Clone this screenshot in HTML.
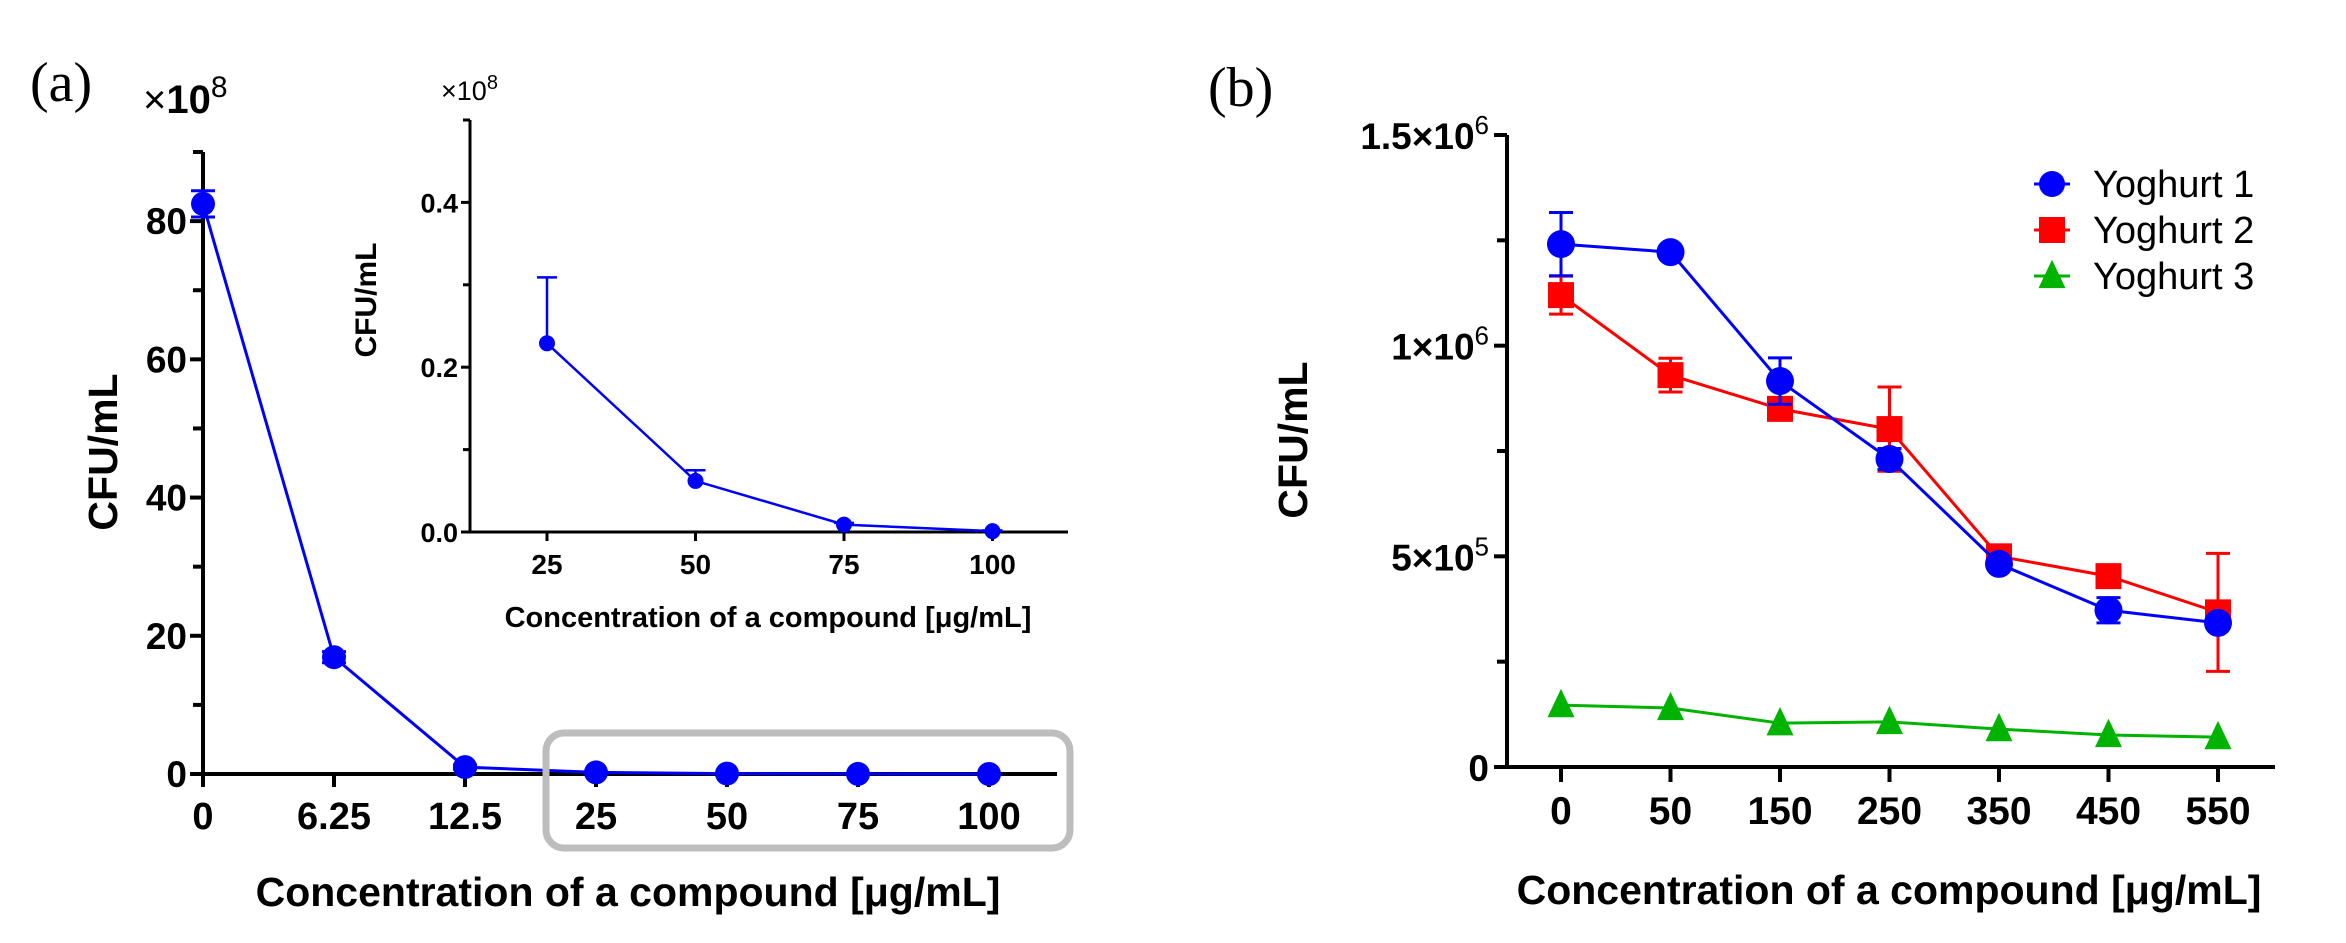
<!DOCTYPE html>
<html><head><meta charset="utf-8">
<style>
html,body{margin:0;padding:0;background:#fff;}
svg{display:block;font-family:"Liberation Sans",Arial,sans-serif;}
.tk{font-weight:bold;}
</style></head>
<body>
<svg id="fig" width="2346" height="943" viewBox="0 0 2346 943" xmlns="http://www.w3.org/2000/svg">
<text x="30" y="101" font-family="Liberation Serif, serif" font-size="56">(a)</text>
<text x="1208" y="106" font-family="Liberation Serif, serif" font-size="56">(b)</text>
<g id="gA"></g>
<g id="gI"></g>
<g id="gB"></g>
</svg>
<script>
// Panel (a) main
const aCats = ["0","6.25","12.5","25","50","75","100"];
const aVals = [82.5, 16.9, 1.0, 0.23, 0.06, 0.01, 0.0];
const aErr  = [1.9, 0.8, 0.3, 0.08, 0.02, 0.005, 0.002];
const aTicks = [0,20,40,60,80];
const aMinor = [10,30,50,70,90];
// Panel (a) inset
const iCats = ["25","50","75","100"];
const iVals = [0.229, 0.062, 0.009, 0.001];
const iErr  = [0.08, 0.013, 0.002, 0.001];
const iTicks = ["0.0","0.2","0.4"];
const iTickVals = [0, 0.2, 0.4];
const iMinor = [0.1, 0.3, 0.5];
// Panel (b)
const bCats = ["0","50","150","250","350","450","550"];
const y1Vals = [1.241e6, 1.222e6, 0.916e6, 0.731e6, 0.482e6, 0.372e6, 0.342e6];
const y1Err  = [0.075e6, 0.01e6, 0.055e6, 0.025e6, 0.01e6, 0.03e6, 0.01e6];
const y2Vals = [1.12e6, 0.93e6, 0.85e6, 0.802e6, 0.5e6, 0.453e6, 0.367e6];
const y2Err  = [0.045e6, 0.04e6, 0.01e6, 0.1e6, 0.01e6, 0.01e6, 0.14e6];
const y3Vals = [0.147e6, 0.14e6, 0.104e6, 0.107e6, 0.09e6, 0.076e6, 0.071e6];
const bTickVals = [0, 5e5, 1e6, 1.5e6];
const bTickBase = ["0","5×10","1×10","1.5×10"];
const bTickExp = ["","5","6","6"];
const bMinor = [2.5e5, 7.5e5, 1.25e6];
const legendNames = ["Yoghurt 1","Yoghurt 2","Yoghurt 3"];

const NS="http://www.w3.org/2000/svg";
function mk(parent, tag, attrs, txt){
  const e=document.createElementNS(NS,tag);
  for(const k in attrs) e.setAttribute(k,attrs[k]);
  if(txt!==undefined) e.textContent=txt;
  parent.appendChild(e); return e;
}

// ---------- Panel A main ----------
(function(){
  const g=document.getElementById('gA');
  const x0=203, yBase=774, yTop=152;
  const X=i=>203+i*131;
  const Y=v=>yBase-(v/90)*(yBase-yTop);
  let e;
  e=mk(g,'line',{x1:x0,y1:yTop,x2:x0,y2:yBase+2,stroke:'#000','stroke-width':4});
   
  e=mk(g,'line',{x1:x0-2,y1:yBase,x2:1057,y2:yBase,stroke:'#000','stroke-width':4});
   
  aTicks.forEach(v=>{
    mk(g,'line',{x1:x0-13,y1:Y(v),x2:x0,y2:Y(v),stroke:'#000','stroke-width':4});
    e=mk(g,'text',{x:x0-16,y:Y(v)+13,'text-anchor':'end','font-size':37,class:'tk'},String(v));
     
  });
  aMinor.forEach(v=>mk(g,'line',{x1:x0-10,y1:Y(v),x2:x0,y2:Y(v),stroke:'#000','stroke-width':4}));
  aCats.forEach((c,i)=>{
    mk(g,'line',{x1:X(i),y1:yBase,x2:X(i),y2:yBase+13,stroke:'#000','stroke-width':4});
    e=mk(g,'text',{x:X(i),y:yBase+55,'text-anchor':'middle','font-size':38,class:'tk'},c);
     
  });
  let pts=aVals.map((v,i)=>X(i)+','+Y(v)).join(' ');
  e=mk(g,'polyline',{points:pts,fill:'none',stroke:'#0000ff','stroke-width':3});
   
  aVals.forEach((v,i)=>{
    const t=Y(v+aErr[i]), b=Y(v-aErr[i]);
    mk(g,'line',{x1:X(i),y1:t,x2:X(i),y2:b,stroke:'#0000ff','stroke-width':3});
    mk(g,'line',{x1:X(i)-12,y1:t,x2:X(i)+12,y2:t,stroke:'#0000ff','stroke-width':3});
    mk(g,'line',{x1:X(i)-12,y1:b,x2:X(i)+12,y2:b,stroke:'#0000ff','stroke-width':3});
    e=mk(g,'ellipse',{cx:X(i),cy:Y(v),rx:12,ry:12,fill:'#0000ff'});
     
  });
  e=mk(g,'rect',{x:546,y:733,width:524,height:115,rx:18,ry:18,fill:'none',stroke:'#bdbdbd','stroke-width':7});
   
  e=mk(g,'text',{x:628,y:906,'text-anchor':'middle','font-size':41,class:'tk'},'Concentration of a compound [μg/mL]');
   
  e=mk(g,'text',{x:117,y:452,'text-anchor':'middle','font-size':41,class:'tk',transform:'rotate(-90 117 452)'},'CFU/mL');
   
  e=mk(g,'text',{x:143,y:113,'font-size':40},'');
   
  mk(e,'tspan',{'font-weight':'normal'},'×');
  mk(e,'tspan',{'font-weight':'bold'},'10');
  mk(e,'tspan',{'font-weight':'normal','font-size':30,dy:-16},'8');
})();

// ---------- Panel A inset ----------
(function(){
  const g=document.getElementById('gI');
  const x0=470, yBase=532, yTop=120, xEnd=1068;
  const X=i=>547+i*148.5;
  const Y=v=>yBase-(v/0.5)*(yBase-yTop);
  let e;
  e=mk(g,'line',{x1:x0,y1:yTop,x2:x0,y2:yBase+1,stroke:'#000','stroke-width':3});
   
  e=mk(g,'line',{x1:x0-8,y1:yBase,x2:xEnd,y2:yBase,stroke:'#000','stroke-width':3});
   
  iTickVals.forEach((v,i)=>{
    mk(g,'line',{x1:x0-9,y1:Y(v),x2:x0,y2:Y(v),stroke:'#000','stroke-width':3});
    e=mk(g,'text',{x:x0-12,y:Y(v)+10,'text-anchor':'end','font-size':27,class:'tk'},iTicks[i]);
     
  });
  iMinor.forEach(v=>mk(g,'line',{x1:x0-7,y1:Y(v),x2:x0,y2:Y(v),stroke:'#000','stroke-width':3}));
  iCats.forEach((c,i)=>{
    mk(g,'line',{x1:X(i),y1:yBase,x2:X(i),y2:yBase+9,stroke:'#000','stroke-width':3});
    e=mk(g,'text',{x:X(i),y:yBase+42,'text-anchor':'middle','font-size':28,class:'tk'},c);
     
  });
  e=mk(g,'polyline',{points:iVals.map((v,i)=>X(i)+','+Y(v)).join(' '),fill:'none',stroke:'#0000ff','stroke-width':2.5});
   
  iVals.forEach((v,i)=>{
    const t=Y(v+iErr[i]);
    mk(g,'line',{x1:X(i),y1:t,x2:X(i),y2:Y(v),stroke:'#0000ff','stroke-width':2.5});
    mk(g,'line',{x1:X(i)-10,y1:t,x2:X(i)+10,y2:t,stroke:'#0000ff','stroke-width':2.5});
    e=mk(g,'circle',{cx:X(i),cy:Y(v),r:8,fill:'#0000ff'});
     
  });
  e=mk(g,'text',{x:768,y:627,'text-anchor':'middle','font-size':29,class:'tk'},'Concentration of a compound [μg/mL]');
   
  e=mk(g,'text',{x:376,y:300,'text-anchor':'middle','font-size':30,class:'tk',transform:'rotate(-90 376 300)'},'CFU/mL');
   
  e=mk(g,'text',{x:441,y:100,'font-size':27},'');
   
  mk(e,'tspan',{},'×10');
  mk(e,'tspan',{'font-size':20,dy:-11},'8');
})();

// ---------- Panel B ----------
(function(){
  const g=document.getElementById('gB');
  const x0=1507, yBase=767, yTop=135, xEnd=2275;
  const X=i=>1561+i*109.5;
  const Y=v=>yBase-(v/1.5e6)*(yBase-yTop);
  let e;
  e=mk(g,'line',{x1:x0,y1:yTop,x2:x0,y2:yBase+2,stroke:'#000','stroke-width':4});
   
  e=mk(g,'line',{x1:x0-12,y1:yBase,x2:xEnd,y2:yBase,stroke:'#000','stroke-width':4});
   
  bTickVals.forEach((v,i)=>{
    mk(g,'line',{x1:x0-13,y1:Y(v),x2:x0,y2:Y(v),stroke:'#000','stroke-width':4});
    e=mk(g,'text',{x:x0-18,y:Y(v)+14,'text-anchor':'end','font-size':37,class:'tk'},'');
     
    mk(e,'tspan',{},bTickBase[i]);
    if(bTickExp[i]) mk(e,'tspan',{'font-size':26,'font-weight':'normal',dy:-15},bTickExp[i]);
  });
  bMinor.forEach(v=>mk(g,'line',{x1:x0-10,y1:Y(v),x2:x0,y2:Y(v),stroke:'#000','stroke-width':4}));
  bCats.forEach((c,i)=>{
    mk(g,'line',{x1:X(i),y1:yBase,x2:X(i),y2:yBase+15,stroke:'#000','stroke-width':4});
    e=mk(g,'text',{x:X(i),y:yBase+57,'text-anchor':'middle','font-size':39,class:'tk'},c);
     
  });
  function errs(vals,err,col){
    vals.forEach((v,i)=>{
      const t=Y(v+err[i]), b=Y(v-err[i]);
      mk(g,'line',{x1:X(i),y1:t,x2:X(i),y2:b,stroke:col,'stroke-width':3});
      mk(g,'line',{x1:X(i)-12,y1:t,x2:X(i)+12,y2:t,stroke:col,'stroke-width':3});
      mk(g,'line',{x1:X(i)-12,y1:b,x2:X(i)+12,y2:b,stroke:col,'stroke-width':3});
    });
  }
  function tri(cx,cy,s){return (cx)+','+(cy-s*0.6)+' '+(cx-s/2)+','+(cy+s*0.45)+' '+(cx+s/2)+','+(cy+s*0.45);}
  e=mk(g,'polyline',{points:y3Vals.map((v,i)=>X(i)+','+Y(v)).join(' '),fill:'none',stroke:'#00b300','stroke-width':3});
   
  y3Vals.forEach((v,i)=>{
    e=mk(g,'polygon',{points:tri(X(i),Y(v),27),fill:'#00b300'});
     
  });
  errs(y2Vals,y2Err,'#ff0000');
  e=mk(g,'polyline',{points:y2Vals.map((v,i)=>X(i)+','+Y(v)).join(' '),fill:'none',stroke:'#ff0000','stroke-width':3});
   
  y2Vals.forEach((v,i)=>{
    e=mk(g,'rect',{x:X(i)-13,y:Y(v)-13,width:26,height:26,fill:'#ff0000'});
     
  });
  errs(y1Vals,y1Err,'#0000ff');
  e=mk(g,'polyline',{points:y1Vals.map((v,i)=>X(i)+','+Y(v)).join(' '),fill:'none',stroke:'#0000ff','stroke-width':3});
   
  y1Vals.forEach((v,i)=>{
    e=mk(g,'circle',{cx:X(i),cy:Y(v),r:14,fill:'#0000ff'});
     
  });
  const cols=['#0000ff','#ff0000','#00b300'];
  legendNames.forEach((n,i)=>{
    const ly=184+i*46, lx=2052;
    const lg=mk(g,'g',{});
     
    mk(lg,'line',{x1:2034,y1:ly,x2:2070,y2:ly,stroke:cols[i],'stroke-width':3});
    if(i===0) mk(lg,'circle',{cx:lx,cy:ly,r:13,fill:cols[i]});
    if(i===1) mk(lg,'rect',{x:lx-13,y:ly-13,width:26,height:26,fill:cols[i]});
    if(i===2) mk(lg,'polygon',{points:tri(lx,ly,27),fill:cols[i]});
    mk(lg,'text',{x:2093,y:ly+13,'font-size':38},n);
  });
  e=mk(g,'text',{x:1889,y:904,'text-anchor':'middle','font-size':41,class:'tk'},'Concentration of a compound [μg/mL]');
   
  e=mk(g,'text',{x:1307,y:440,'text-anchor':'middle','font-size':41,class:'tk',transform:'rotate(-90 1307 440)'},'CFU/mL');
   
})();
</script>
</body></html>
